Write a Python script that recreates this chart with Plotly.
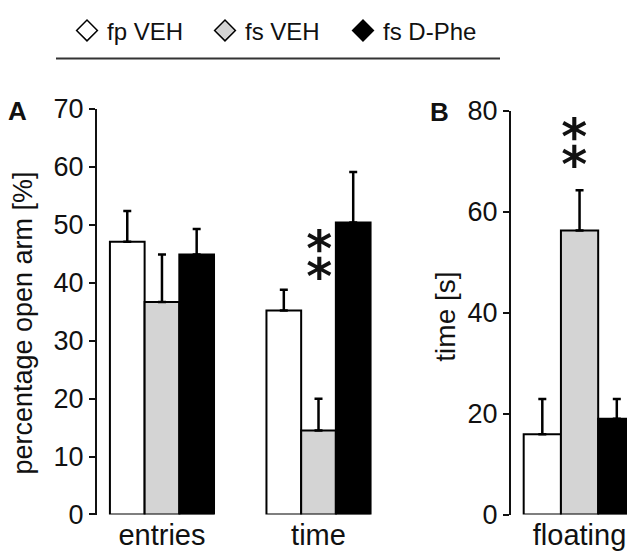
import plotly.graph_objects as go

groups = ["fp VEH", "fs VEH", "fs D-Phe"]
colors = ["#ffffff", "#d4d4d4", "#000000"]

cats_a = ["entries", "time"]
mean_a = {"fp VEH": [47.1, 35.2], "fs VEH": [36.7, 14.5], "fs D-Phe": [44.9, 50.4]}
sem_a = {"fp VEH": [5.3, 3.6], "fs VEH": [8.2, 5.5], "fs D-Phe": [4.4, 8.7]}

cats_b = ["floating"]
mean_b = {"fp VEH": [15.9], "fs VEH": [56.3], "fs D-Phe": [19.0]}
sem_b = {"fp VEH": [7.0], "fs VEH": [8.0], "fs D-Phe": [3.9]}

ticks_a = [0, 10, 20, 30, 40, 50, 60, 70]
ticks_b = [0, 20, 40, 60, 80]

FONT = "Liberation Sans, Arial, sans-serif"
# page body has an 8px margin; figure sized to fill the rest of the window
W, H = 627, 552
OFF = 8


def px(sx):
    return (sx - OFF) / W


def py(sy):
    return (H + OFF - sy) / H


fig = go.Figure()

for g, c in zip(groups, colors):
    fig.add_trace(go.Bar(
        x=cats_a, y=mean_a[g], name=g, marker=dict(color=c, line=dict(color="black", width=2)),
        error_y=dict(type="data", array=sem_a[g], arrayminus=[0] * len(cats_a), symmetric=False,
                     color="black", thickness=2.5, width=4),
        showlegend=False, xaxis="x", yaxis="y"))
    fig.add_trace(go.Bar(
        x=cats_b, y=mean_b[g], name=g, marker=dict(color=c, line=dict(color="black", width=2)),
        error_y=dict(type="data", array=sem_b[g], arrayminus=[0] * len(cats_b), symmetric=False,
                     color="black", thickness=2.5, width=4),
        showlegend=False, xaxis="x2", yaxis="y2"))

# legend entries (diamonds)
for g, c in zip(groups, colors):
    fig.add_trace(go.Scatter(
        x=[None], y=[None], mode="markers", name=g,
        marker=dict(symbol="diamond", size=16, color=c, line=dict(color="black", width=1.5)),
        xaxis="x", yaxis="y", showlegend=True))

axis_common = dict(showgrid=False, zeroline=False, showline=True, linecolor="#111", linewidth=2,
                   ticks="outside", ticklen=6, tickwidth=2, tickcolor="#111",
                   tickfont=dict(family=FONT, size=27, color="#111"), automargin=False)
xcommon = dict(type="category", categoryorder="array", showgrid=False, zeroline=False,
               showline=False, ticks="", tickfont=dict(family=FONT, size=29, color="#111"),
               automargin=False)

fig.update_layout(
    width=W, height=H,
    margin=dict(l=0, r=0, t=0, b=0),
    paper_bgcolor="white", plot_bgcolor="white",
    barmode="group", bargap=0.335, bargroupgap=0,
    font=dict(family=FONT, color="#111"),
    xaxis=dict(domain=[px(97), px(378)], categoryarray=cats_a, range=[-0.415, 1.38], **xcommon),
    yaxis=dict(domain=[py(514), py(104)], range=[0, 70], tickvals=ticks_a, **axis_common),
    xaxis2=dict(domain=[px(511), 1.0], categoryarray=cats_b, range=[-0.408, 0.33], anchor="y2",
                **xcommon),
    yaxis2=dict(domain=[py(514), py(106)], range=[0, 80], tickvals=ticks_b,
                anchor="x2", **axis_common),
    legend=dict(orientation="h", x=px(67), xanchor="left", y=py(25), yanchor="middle",
                entrywidth=93, entrywidthmode="pixels", font=dict(family=FONT, size=24, color="#111"),
                bgcolor="rgba(0,0,0,0)", itemclick=False),
    shapes=[dict(type="line", xref="paper", yref="paper", x0=px(56), x1=px(500),
                 y0=py(53), y1=py(53), line=dict(color="#333", width=2))],
)

ann = [
    dict(text="percentage open arm [%]", x=px(23), y=py(321), textangle=-90, size=27),
    dict(text="time [s]", x=px(446), y=py(314), textangle=-90, size=28),
    dict(text="<b>A</b>", x=px(17), y=py(106), textangle=0, size=26),
    dict(text="<b>B</b>", x=px(439), y=py(107), textangle=0, size=26),
]
for a in ann:
    fig.add_annotation(text=a["text"], x=a["x"], y=a["y"], textangle=a["textangle"],
                       xref="paper", yref="paper", showarrow=False, xanchor="center",
                       yanchor="middle", font=dict(family=FONT, color="#111", size=a["size"]))

# significance stars (two asterisks aligned vertically)
for xref, yref, xv, yv, xs in [("x", "y", 1, 44.3, 1), ("x2", "y2", 0, 73.2, -5)]:
    fig.add_annotation(text="<b>\u2051</b>", xref=xref, yref=yref, x=xv, y=yv, xshift=xs,
                       showarrow=False, xanchor="center", yanchor="middle",
                       font=dict(family="DejaVu Sans", size=62, color="#111"))

fig.write_html("out.html")
